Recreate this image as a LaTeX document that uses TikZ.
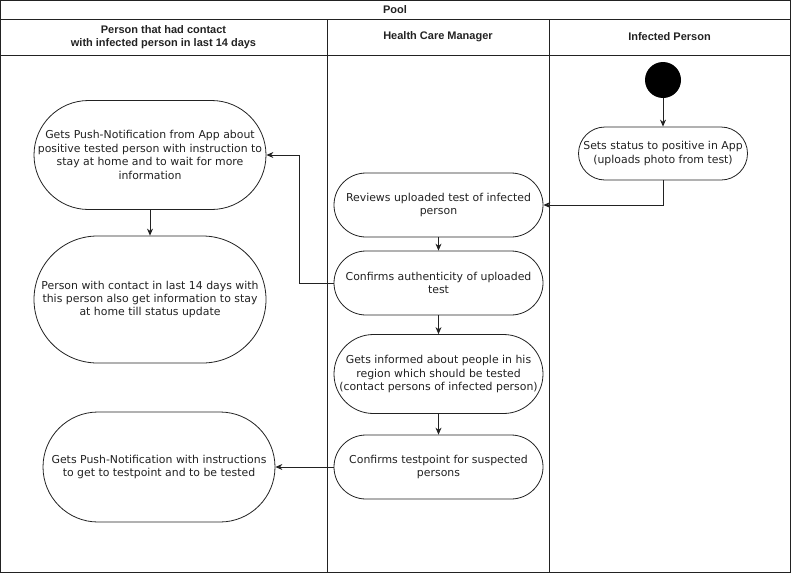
\documentclass[tikz,border=0pt]{standalone}
\usepackage{fontspec}
\setmainfont{DejaVu Sans}
\newfontfamily\hdrfont{Liberation Sans}
\usetikzlibrary{arrows.meta}
\definecolor{ink}{HTML}{222222}
\begin{document}
\begin{tikzpicture}[x=1pt,y=-1pt,
  act/.style n args={3}{draw=ink, line width=0.8pt, fill=white, rectangle, rounded corners=#3,
    minimum width=#1, minimum height=#2, inner sep=0pt, align=center,
    font=\fontsize{10.9}{13.4}\selectfont, text=ink},
  flow/.style={-{Stealth[length=7pt,width=6pt]}, line width=0.8pt, draw=ink},
  lane/.style={draw=ink, line width=0.9pt},
  hdr/.style={font=\hdrfont\bfseries\fontsize{11}{13.5}\selectfont, align=center, text=ink}]
\useasboundingbox (0,0) rectangle (791,573);
% frame and lanes
\draw[lane] (0.5,0.5) rectangle (790.5,572.5);
\draw[lane] (0.5,19) -- (790.5,19);
\draw[lane] (0.5,55) -- (790.5,55);
\draw[lane] (327,19) -- (327,572.5);
\draw[lane] (549,19) -- (549,572.5);
\node[hdr] (pool) at (395,10) {Pool};
\node[hdr] (h1) at (163.5,37) {Person that had contact\\with infected person in last 14 days};
\node[hdr] (h2) at (438,37) {Health Care Manager};
\node[hdr] (h3) at (669.5,37) {Infected Person};
% nodes
\node[circle, fill=black, minimum size=36pt, inner sep=0pt] (start) at (663,80) {};
\node[act={169pt}{53pt}{26.5pt}] (sets) at (663,153.5) {Sets status to positive in App\\(uploads photo from test)};
\node[act={209pt}{64pt}{32pt}] (rev) at (438.5,205) {Reviews uploaded test of infected\\person};
\node[act={209pt}{64pt}{32pt}] (auth) at (438.5,283) {Confirms authenticity of uploaded\\test};
\node[act={209pt}{79pt}{39.5pt}] (inf) at (438.5,374) {Gets informed about people in his\\region which should be tested\\(contact persons of infected person)};
\node[act={209pt}{64pt}{32pt}] (tp) at (438.5,467) {Confirms testpoint for suspected\\persons};
\node[act={232pt}{109pt}{54.5pt}] (push1) at (150,155) {Gets Push-Notification from App about\\positive tested person with instruction to\\stay at home and to wait for more\\information};
\node[act={232pt}{127pt}{63.5pt}] (contact) at (150,299.5) {Person with contact in last 14 days with\\this person also get information to stay\\at home till status update};
\node[act={232pt}{110pt}{55pt}] (push2) at (159,467) {Gets Push-Notification with instructions\\to get to testpoint and to be tested};
% connectors
\draw[flow] (start) -- (sets);
\draw[flow] (sets.south) |- (rev.east);
\draw[flow] (rev) -- (auth);
\draw[flow] (auth.west) -- ++(-34,0) |- (push1.east);
\draw[flow] (auth) -- (inf);
\draw[flow] (inf) -- (tp);
\draw[flow] (tp) -- (push2);
\draw[flow] (push1) -- (contact);
\end{tikzpicture}
\end{document}
